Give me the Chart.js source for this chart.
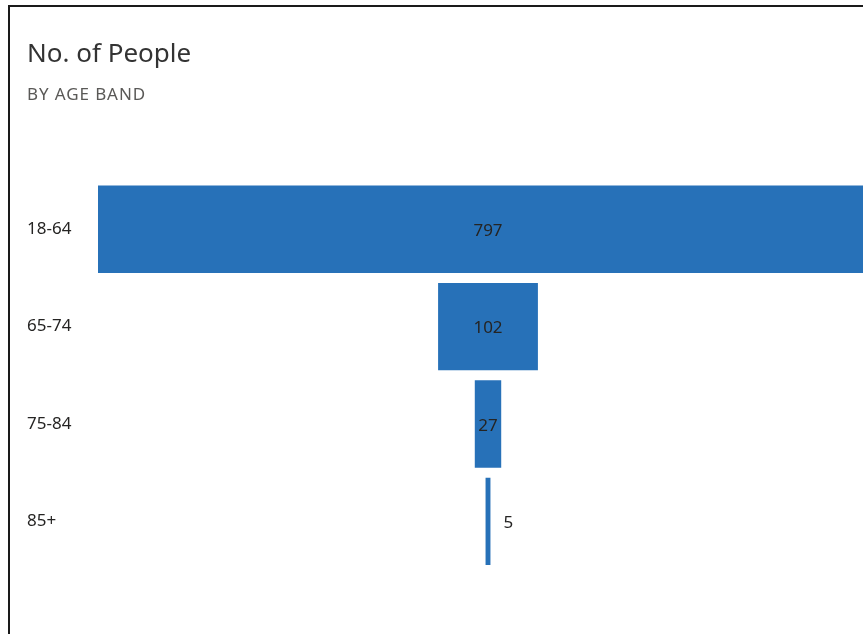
<!DOCTYPE html>
<html>
<head>
<meta charset="utf-8">
<script src="https://cdn.jsdelivr.net/npm/chart.js@4"></script>
<style>
  html, body { margin: 0; padding: 0; background: #fff; overflow: hidden; }
  body { width: 863px; height: 634px; position: relative; }
  #frame {
    position: absolute; left: 8px; top: 5px; width: 900px; height: 700px;
    border-left: 2px solid #1a1a1a; border-top: 2px solid #1a1a1a;
    pointer-events: none;
  }
  #funnel { position: absolute; left: 0; top: 0; }
</style>
</head>
<body>
<canvas id="funnel" width="878" height="634"></canvas>
<div id="frame"></div>
<script>
// data
const age_bands = ['18-64', '65-74', '75-84', '85+'];
const people    = [797, 102, 27, 5];
const max_value = 797;

const bar_colour = '#2771b8';
const font_family = '"Segoe UI", "Noto Sans", sans-serif';

// a funnel is a floating bar centred on zero
const spans = people.map(v => [-v / 2, v / 2]);

// draws the count inside each bar, or to its right when it does not fit
const value_labels = {
    id: 'value_labels',
    afterDatasetsDraw(chart) {
        const ctx = chart.ctx;
        const meta = chart.getDatasetMeta(0);
        ctx.save();
        ctx.font = '17px ' + font_family;
        ctx.fillStyle = '#252423';
        ctx.textBaseline = 'middle';
        meta.data.forEach((bar, i) => {
            const text = String(people[i]);
            const w = ctx.measureText(text).width;
            const left = Math.min(bar.x, bar.base);
            const right = Math.max(bar.x, bar.base);
            if (right - left > w + 4) {
                ctx.textAlign = 'center';
                ctx.fillText(text, (left + right) / 2, bar.y + 2);
            } else {
                ctx.textAlign = 'left';
                ctx.fillText(text, right + 13, bar.y + 2);
            }
        });
        ctx.restore();
    }
};

const config = {
    type: 'bar',
    data: {
        labels: age_bands,
        datasets: [{
            data: spans,
            backgroundColor: bar_colour,
            borderWidth: 0,
            barPercentage: 0.897,
            categoryPercentage: 1.0
        }]
    },
    options: {
        indexAxis: 'y',
        responsive: false,
        animation: false,
        layout: {
            padding: { left: 27, right: 0, top: 0, bottom: 64 }
        },
        plugins: {
            legend: { display: false },
            tooltip: { enabled: false },
            title: {
                display: true,
                text: 'No. of People',
                align: 'start',
                color: '#333333',
                font: { family: font_family, size: 26, weight: 'normal' },
                padding: { top: 39, bottom: 15 }
            },
            subtitle: {
                display: true,
                text: 'BY AGE BAND',
                align: 'start',
                color: '#5a5957',
                font: { family: font_family, size: 17, weight: 'normal' },
                padding: { top: 0, bottom: 75 }
            }
        },
        scales: {
            x: {
                display: false,
                min: -max_value / 2,
                max: max_value / 2
            },
            y: {
                grid: { display: false },
                border: { display: false },
                ticks: {
                    crossAlign: 'far',
                    color: '#252423',
                    font: { family: font_family, size: 17 }
                },
                afterFit(axis) {
                    axis.width = 71;
                }
            }
        }
    },
    plugins: [value_labels]
};

const chart = new Chart(document.getElementById('funnel'), config);

// the subtitle is letter-spaced in the original
const sub_box = chart.boxes.find(b => b.options && b.options.text === 'BY AGE BAND');
if (sub_box) {
    const draw_orig = sub_box.draw.bind(sub_box);
    sub_box.draw = function() {
        const ctx = chart.ctx;
        const prev = ctx.letterSpacing;
        ctx.letterSpacing = '0.9px';
        draw_orig();
        ctx.letterSpacing = prev || '0px';
    };
    chart.draw();
}
</script>
</body>
</html>
